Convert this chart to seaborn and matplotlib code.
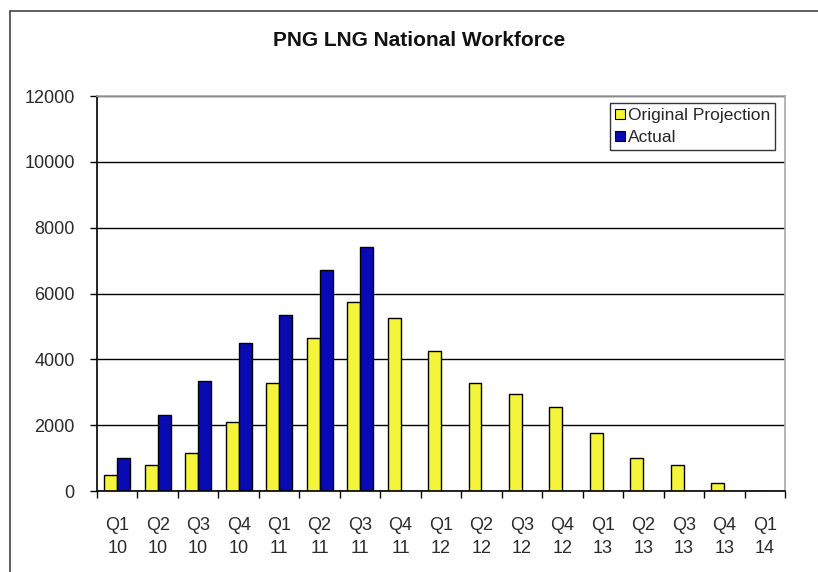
import numpy as np
import pandas as pd
import matplotlib
matplotlib.use("Agg")
import matplotlib.pyplot as plt
import seaborn as sns
from matplotlib.lines import Line2D

sns.set_theme(style="white")
plt.rcParams['font.family'] = ['Liberation Sans', 'DejaVu Sans']

quarters = ["Q1\n10", "Q2\n10", "Q3\n10", "Q4\n10", "Q1\n11", "Q2\n11", "Q3\n11", "Q4\n11",
            "Q1\n12", "Q2\n12", "Q3\n12", "Q4\n12", "Q1\n13", "Q2\n13", "Q3\n13", "Q4\n13", "Q1\n14"]
original_projection = [500, 800, 1150, 2100, 3270, 4650, 5750, 5250,
                       4250, 3270, 2950, 2550, 1750, 1000, 800, 250, 0]
actual = [1000, 2300, 3350, 4500, 5350, 6700, 7400] + [np.nan] * 10
series_names = ["Original Projection", "Actual"]
series_colors = ["#F4F43A", "#0A0AB2"]

df = pd.DataFrame({
    "quarter": quarters * 2,
    "value": original_projection + actual,
    "series": [series_names[0]] * len(quarters) + [series_names[1]] * len(quarters),
})

fig = plt.figure(figsize=(8.18, 5.72), dpi=100)
ax = fig.add_axes([97/818, 81/572, 688/818, 395/572])

sns.barplot(data=df, x="quarter", y="value", hue="series", order=quarters,
            hue_order=series_names, palette=series_colors, saturation=1, width=0.64, gap=0,
            edgecolor="black", linewidth=1.0, ax=ax, legend=False)

ax.set_xlim(-0.5, len(quarters) - 0.5)
ax.set_ylim(0, 12000)
ax.set_yticks(np.arange(0, 12001, 2000))
ax.set_xlabel("")
ax.set_ylabel("")
ax.yaxis.grid(True, color="black", linewidth=1.0)
ax.set_axisbelow(True)

for s in ["top", "right"]:
    ax.spines[s].set_color("#A8A8A8")
    ax.spines[s].set_linewidth(1.2)
for s in ["left", "bottom"]:
    ax.spines[s].set_color("black")
    ax.spines[s].set_linewidth(1.2)

ax.set_xticks(np.arange(-0.5, len(quarters), 1.0), minor=True)
ax.tick_params(axis="x", which="major", length=0, pad=19, labelsize=13, labelcolor="#2a2a2a")
ax.tick_params(axis="x", which="minor", length=5, width=1, color="black", direction="out", bottom=True)
ax.tick_params(axis="y", which="major", length=5, width=1, color="black", direction="out", left=True,
               labelsize=13, labelcolor="#2a2a2a", pad=11)
for lab in ax.get_xticklabels():
    lab.set_linespacing(1.4)

handles = [plt.Rectangle((0, 0), 1, 1, facecolor=c, edgecolor="black", linewidth=0.8) for c in series_colors]
leg = ax.legend(handles, series_names, loc="upper right", bbox_to_anchor=(0.9855, 0.982),
                borderaxespad=0, frameon=True, fancybox=False, edgecolor="black",
                fontsize=12.5, handlelength=0.55, handleheight=0.55, handletextpad=0.15,
                labelspacing=0.4, borderpad=0.3)
leg.get_frame().set_linewidth(1.0)

fig.text(419/818, 1 - 40/572, "PNG LNG National Workforce", ha="center", va="center",
         fontsize=15, fontweight="bold", color="#111111")

# outer chart frame
fig.add_artist(Line2D([10/818, 10/818], [0, 1 - 11/572], transform=fig.transFigure,
                      color="#444444", linewidth=1.2))
fig.add_artist(Line2D([10/818, 1], [1 - 11/572, 1 - 11/572], transform=fig.transFigure,
                      color="#444444", linewidth=1.2))

fig.savefig("out.png", dpi=100)
